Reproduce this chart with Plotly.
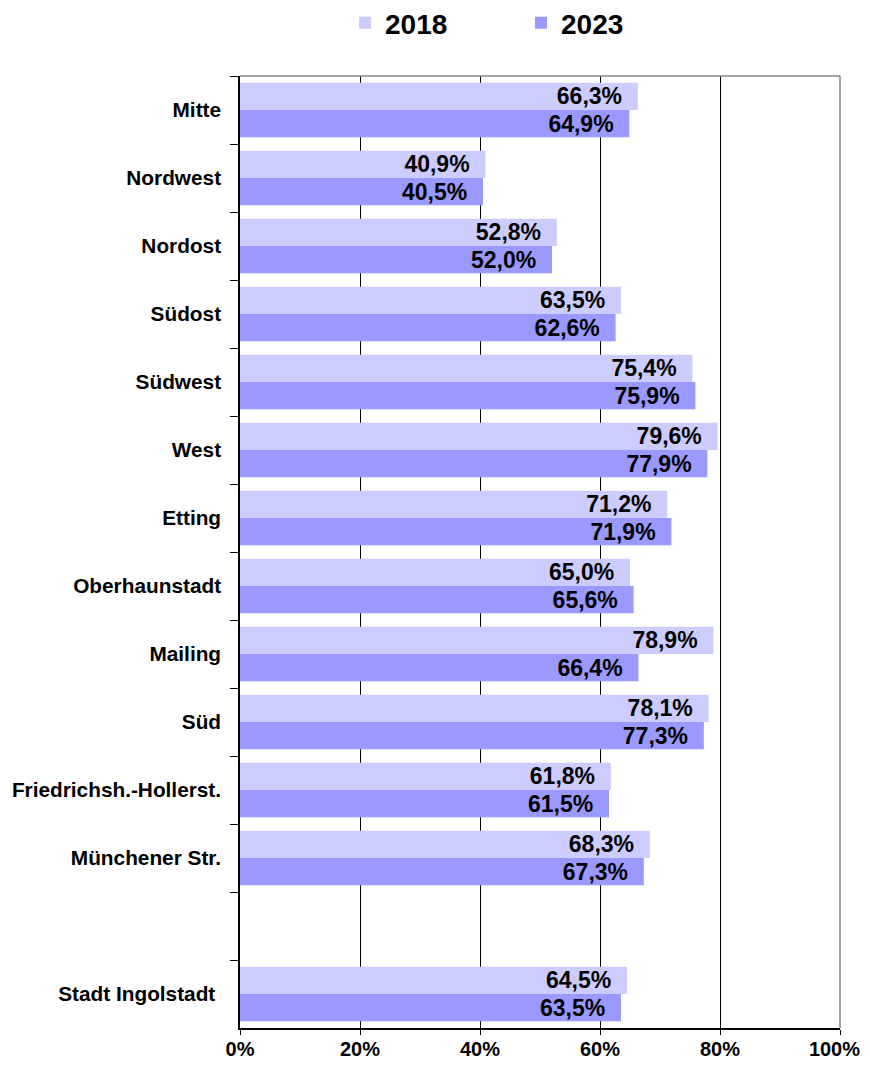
import plotly.graph_objects as go

categories = ["Mitte", "Nordwest", "Nordost", "Südost", "Südwest", "West", "Etting",
              "Oberhaunstadt", "Mailing", "Süd", "Friedrichsh.-Hollerst.", "Münchener Str.",
              " ", "Stadt Ingolstadt\u00a0"]
values_2018 = [66.3, 40.9, 52.8, 63.5, 75.4, 79.6, 71.2, 65.0, 78.9, 78.1, 61.8, 68.3, None, 64.5]
values_2023 = [64.9, 40.5, 52.0, 62.6, 75.9, 77.9, 71.9, 65.6, 66.4, 77.3, 61.5, 67.3, None, 63.5]
x_ticks = [0, 20, 40, 60, 80, 100]
x_tick_labels = ["0%", "20%", "40%", "60%", "80%", "100%\u00a0\u00a0"]

FONT = "Liberation Sans, Arial, sans-serif"
label_font = dict(family=FONT, size=23, color="black")

W, H = 862, 1051

fig = go.Figure()
for name, vals, color in [("2018", values_2018, "#CCCCFF"), ("2023", values_2023, "#9999FF")]:
    fig.add_trace(go.Bar(
        name=name, y=categories, x=vals, orientation="h",
        marker=dict(color=color, line=dict(width=0)),
        texttemplate="<b>%{x:.1f}%</b>\u00a0\u00a0", textposition="inside",
        insidetextanchor="end", textfont=label_font, constraintext="none",
        cliponaxis=False,
    ))

fig.update_layout(
    width=W, height=H,
    margin=dict(l=232, r=30, t=68, b=31, autoexpand=False),
    paper_bgcolor="white", plot_bgcolor="white",
    barmode="group", bargap=0.2, bargroupgap=0,
    separators=",.",
    font=dict(family=FONT, color="black"),
    legend=dict(orientation="h", xref="container", yref="container",
                x=513 / W, xanchor="center", y=1 - 15 / H, yanchor="middle",
                font=dict(family=FONT, size=28, color="black", weight="bold"),
                entrywidth=131, itemwidth=30),
    showlegend=True,
    shapes=[
        dict(type="line", xref="x domain", yref="y domain", x0=0, x1=1, y0=1, y1=1,
             line=dict(color="#888888", width=1.5), layer="above"),
        dict(type="line", xref="x domain", yref="y domain", x0=1, x1=1, y0=0, y1=1,
             line=dict(color="#888888", width=1.5), layer="above"),
    ],
)

fig.update_xaxes(
    range=[0, 100], tickmode="array", tickvals=x_ticks, ticktext=x_tick_labels,
    showgrid=True, gridcolor="black", gridwidth=1,
    showline=True, linecolor="black", linewidth=1.5,
    ticks="outside", ticklen=5, tickcolor="black",
    ticklabelstandoff=-3, ticklabeloverflow="allow", automargin=False,
    tickfont=dict(family=FONT, size=20, color="black", weight="bold"),
    zeroline=False, fixedrange=True,
)
fig.update_yaxes(
    type="category", categoryorder="array", categoryarray=categories,
    autorange="reversed", tickson="boundaries",
    showline=True, linecolor="black", linewidth=1.5,
    ticks="outside", ticklen=8, tickcolor="black",
    ticklabelstandoff=13, automargin=False,
    tickfont=dict(family=FONT, size=20.8, color="black", weight="bold"),
    showgrid=False, fixedrange=True,
)

fig.write_html("out.html")
